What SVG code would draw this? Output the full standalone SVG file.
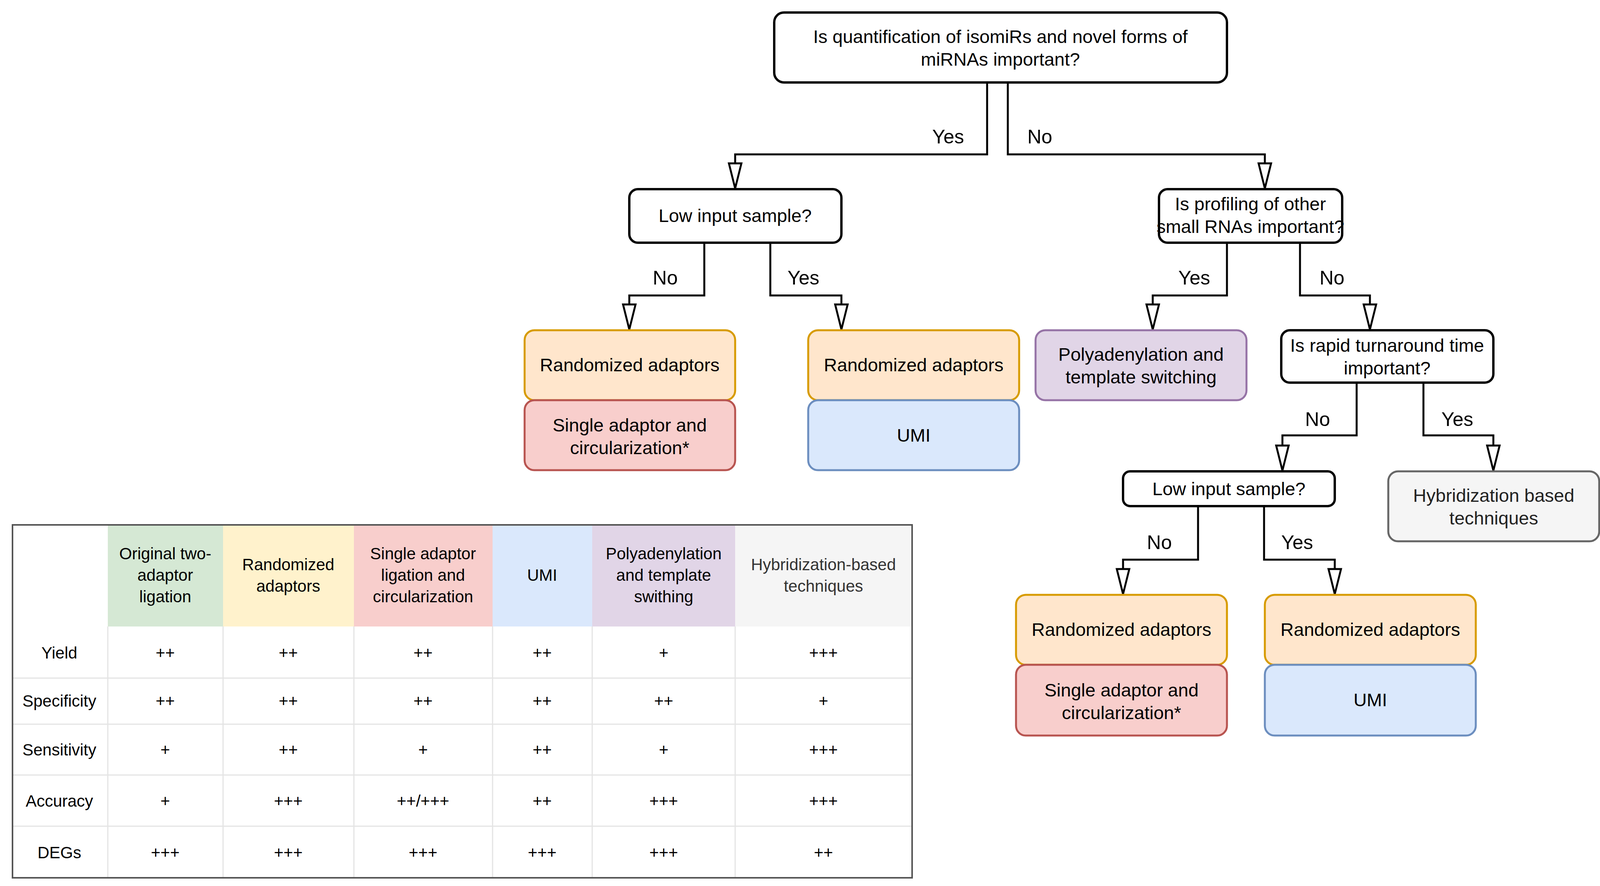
<svg xmlns="http://www.w3.org/2000/svg" width="4107" height="2267" viewBox="0 0 4107 2267">
<style>
text{font-family:"Liberation Sans",Arial,sans-serif;fill:#000}
.q{fill:#fff;stroke:#000;stroke-width:6}
.t{font-size:47px;text-anchor:middle}
.l{font-size:50px}
.e{fill:none;stroke:#000;stroke-width:5}
.or{fill:#ffe6cc;stroke:#d79b00;stroke-width:5}
.rd{fill:#f8cecc;stroke:#b85450;stroke-width:5}
.bl{fill:#dae8fc;stroke:#6c8ebf;stroke-width:5}
.pu{fill:#e1d5e7;stroke:#9673a6;stroke-width:5}
.gr{fill:#f5f5f5;stroke:#666;stroke-width:5}
.tb{font-size:42px;text-anchor:middle}
.gl{stroke:#e4e4e4;stroke-width:3}
</style>
<defs>
<marker id="a" markerUnits="userSpaceOnUse" markerWidth="40" markerHeight="70" refX="18" refY="64" orient="auto" viewBox="0 0 40 70" overflow="visible">
<path d="M2,2 L34,2 L18,64 Z" fill="#fff" stroke="#000" stroke-width="5" transform="rotate(-90 18 33)" />
</marker>
<marker id="b" markerUnits="userSpaceOnUse" markerWidth="40" markerHeight="70" refX="64" refY="18" orient="auto" overflow="visible">
<path d="M0,2 L64,18 L0,34 Z" fill="#fff" stroke="#000" stroke-width="5"/>
</marker>
</defs>
<g id="connectors">
<path class="e" marker-end="url(#b)" d="M2527,211 V395 H1882 V482"/>
<path class="e" marker-end="url(#b)" d="M2580,211 V395 H3238 V482"/>
<path class="e" marker-end="url(#b)" d="M1803,621 V756 H1611 V843"/>
<path class="e" marker-end="url(#b)" d="M1972,621 V756 H2154 V843"/>
<path class="e" marker-end="url(#b)" d="M3141,621 V756 H2951 V843"/>
<path class="e" marker-end="url(#b)" d="M3328,621 V756 H3507 V843"/>
<path class="e" marker-end="url(#b)" d="M3473,979 V1114 H3283 V1204"/>
<path class="e" marker-end="url(#b)" d="M3644,979 V1114 H3823 V1204"/>
<path class="e" marker-end="url(#b)" d="M3067,1295 V1432 H2875 V1520"/>
<path class="e" marker-end="url(#b)" d="M3236,1295 V1432 H3417 V1520"/>
<text class="l" x="2468" y="367" text-anchor="end">Yes</text>
<text class="l" x="2630" y="367">No</text>
<text class="l" x="1735" y="728" text-anchor="end">No</text>
<text class="l" x="2016" y="728">Yes</text>
<text class="l" x="3098" y="728" text-anchor="end">Yes</text>
<text class="l" x="3378" y="728">No</text>
<text class="l" x="3405" y="1090" text-anchor="end">No</text>
<text class="l" x="3690" y="1090">Yes</text>
<text class="l" x="3000" y="1405" text-anchor="end">No</text>
<text class="l" x="3280" y="1405">Yes</text>
</g>
<g id="q1"><rect class="q" x="1982" y="32" width="1159" height="179" rx="25"/><text class="t" x="2561" y="110">Is quantification of isomiRs and novel forms of</text><text class="t" x="2561" y="168">miRNAs important?</text></g>
<g id="q2"><rect class="q" x="1611" y="484" width="543" height="137" rx="22"/><text class="t" x="1882" y="568">Low input sample?</text></g>
<g id="q3"><rect class="q" x="2967" y="484" width="469" height="137" rx="22"/><text class="t" x="3201" y="538">Is profiling of other</text><text class="t" x="3201" y="596">small RNAs important?</text></g>
<g id="n1"><rect class="or" x="1343" y="845" width="539" height="179" rx="25"/><text class="t" x="1612" y="950">Randomized adaptors</text></g>
<g id="n2"><rect class="rd" x="1343" y="1024" width="539" height="179" rx="25"/><text class="t" x="1612" y="1104">Single adaptor and</text><text class="t" x="1612" y="1162">circularization*</text></g>
<g id="n3"><rect class="or" x="2069" y="845" width="540" height="179" rx="25"/><text class="t" x="2339" y="950">Randomized adaptors</text></g>
<g id="n4"><rect class="bl" x="2069" y="1024" width="540" height="179" rx="25"/><text class="t" x="2339" y="1130">UMI</text></g>
<g id="n5"><rect class="pu" x="2651" y="845" width="540" height="179" rx="25"/><text class="t" x="2921" y="923">Polyadenylation and</text><text class="t" x="2921" y="981">template switching</text></g>
<g id="q4"><rect class="q" x="3280" y="845" width="543" height="134" rx="22"/><text class="t" x="3551" y="900">Is rapid turnaround time</text><text class="t" x="3551" y="958">important?</text></g>
<g id="q5"><rect class="q" x="2875" y="1206" width="542" height="89" rx="18"/><text class="t" x="3146" y="1267">Low input sample?</text></g>
<g id="n6"><rect class="gr" x="3554" y="1206" width="540" height="179" rx="25"/><text class="t" x="3824" y="1284" style="fill:#222">Hybridization based</text><text class="t" x="3824" y="1342" style="fill:#222">techniques</text></g>
<g id="n7"><rect class="or" x="2601" y="1522" width="540" height="179" rx="25"/><text class="t" x="2871" y="1627">Randomized adaptors</text></g>
<g id="n8"><rect class="rd" x="2601" y="1701" width="540" height="181" rx="25"/><text class="t" x="2871" y="1782">Single adaptor and</text><text class="t" x="2871" y="1840">circularization*</text></g>
<g id="n9"><rect class="or" x="3238" y="1522" width="540" height="179" rx="25"/><text class="t" x="3508" y="1627">Randomized adaptors</text></g>
<g id="n10"><rect class="bl" x="3238" y="1701" width="540" height="181" rx="25"/><text class="t" x="3508" y="1807">UMI</text></g>
<g id="table">
<rect x="32" y="1343" width="2303" height="903" fill="#fff"/>
<rect x="276" y="1343" width="295" height="260" fill="#d5e8d4"/>
<rect x="571" y="1343" width="335" height="260" fill="#fff2cc"/>
<rect x="906" y="1343" width="355" height="260" fill="#f8cecc"/>
<rect x="1261" y="1343" width="255" height="260" fill="#dae8fc"/>
<rect x="1516" y="1343" width="366" height="260" fill="#e1d5e7"/>
<rect x="1882" y="1343" width="453" height="260" fill="#f5f5f5"/>
<g class="gl">
<line x1="32" y1="1735" x2="2335" y2="1735"/><line x1="32" y1="1853" x2="2335" y2="1853"/><line x1="32" y1="1983" x2="2335" y2="1983"/><line x1="32" y1="2114" x2="2335" y2="2114"/>
<line x1="276" y1="1603" x2="276" y2="2246"/><line x1="571" y1="1603" x2="571" y2="2246"/><line x1="906" y1="1603" x2="906" y2="2246"/><line x1="1261" y1="1603" x2="1261" y2="2246"/><line x1="1516" y1="1603" x2="1516" y2="2246"/><line x1="1882" y1="1603" x2="1882" y2="2246"/>
</g>
<rect x="32" y="1343" width="2303" height="903" fill="none" stroke="#555" stroke-width="4"/>
<g class="tb">
<text x="423" y="1431">Original two-</text><text x="423" y="1486">adaptor</text><text x="423" y="1541">ligation</text>
<text x="738" y="1459">Randomized</text><text x="738" y="1514">adaptors</text>
<text x="1083" y="1431">Single adaptor</text><text x="1083" y="1486">ligation and</text><text x="1083" y="1541">circularization</text>
<text x="1388" y="1486">UMI</text>
<text x="1699" y="1431">Polyadenylation</text><text x="1699" y="1486">and template</text><text x="1699" y="1541">swithing</text>
<text x="2108" y="1459" style="fill:#333">Hybridization-based</text><text x="2108" y="1514" style="fill:#333">techniques</text>
<text x="152" y="1685">Yield</text><text x="152" y="1808">Specificity</text><text x="152" y="1933">Sensitivity</text><text x="152" y="2064">Accuracy</text><text x="152" y="2196">DEGs</text>
<text x="423" y="1685">++</text><text x="738" y="1685">++</text><text x="1083" y="1685">++</text><text x="1388" y="1685">++</text><text x="1699" y="1685">+</text><text x="2108" y="1685">+++</text>
<text x="423" y="1808">++</text><text x="738" y="1808">++</text><text x="1083" y="1808">++</text><text x="1388" y="1808">++</text><text x="1699" y="1808">++</text><text x="2108" y="1808">+</text>
<text x="423" y="1933">+</text><text x="738" y="1933">++</text><text x="1083" y="1933">+</text><text x="1388" y="1933">++</text><text x="1699" y="1933">+</text><text x="2108" y="1933">+++</text>
<text x="423" y="2064">+</text><text x="738" y="2064">+++</text><text x="1083" y="2064">++/+++</text><text x="1388" y="2064">++</text><text x="1699" y="2064">+++</text><text x="2108" y="2064">+++</text>
<text x="423" y="2196">+++</text><text x="738" y="2196">+++</text><text x="1083" y="2196">+++</text><text x="1388" y="2196">+++</text><text x="1699" y="2196">+++</text><text x="2108" y="2196">++</text>
</g>
</g>
</svg>
